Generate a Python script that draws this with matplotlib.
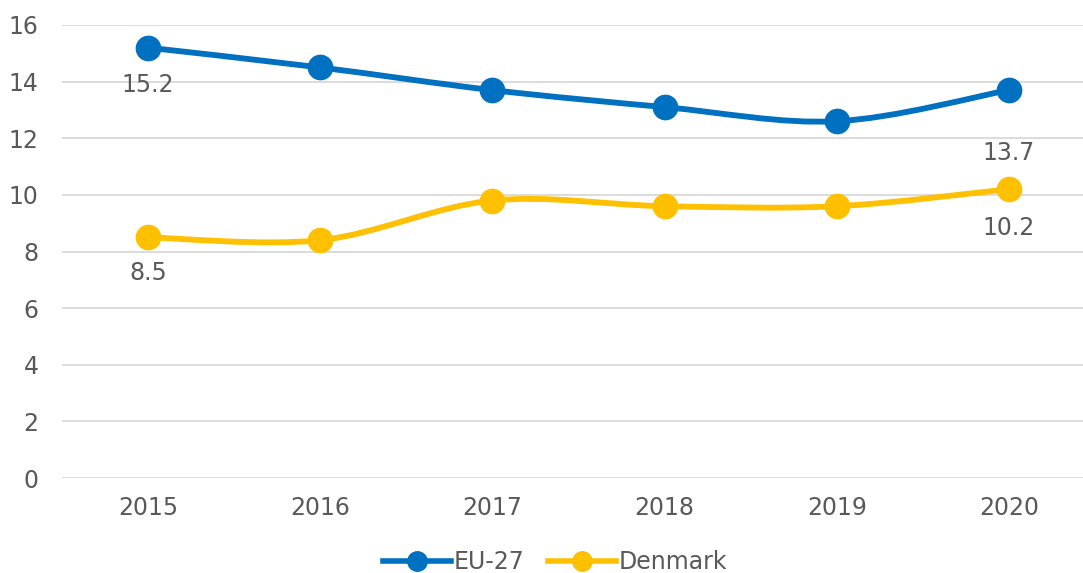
import matplotlib
matplotlib.use('Agg')
from matplotlib import pyplot as plt
from matplotlib.path import Path
from matplotlib.patches import PathPatch
import numpy as np

years = ['2015', '2016', '2017', '2018', '2019', '2020']
eu27 = [15.2, 14.5, 13.7, 13.1, 12.6, 13.7]
denmark = [8.5, 8.4, 9.8, 9.6, 9.6, 10.2]

blue = '#0070C0'
yellow = '#FFC000'
grey_text = '#595959'

plt.rcParams['font.family'] = ['DejaVu Sans']


# Excel-like smoothed line: cubic bezier through points (Catmull-Rom)
def SmoothPath(x, y):
    pts = np.column_stack([x, y]).astype(float)
    n = len(pts)
    verts = [pts[0]]
    codes = [Path.MOVETO]
    for i in range(n - 1):
        p0 = pts[max(i - 1, 0)]
        p1 = pts[i]
        p2 = pts[i + 1]
        p3 = pts[min(i + 2, n - 1)]
        c1 = p1 + (p2 - p0) / 6.0
        c2 = p2 - (p3 - p1) / 6.0
        verts += [c1, c2, p2]
        codes += [Path.CURVE4] * 3
    return Path(verts, codes)


fig = plt.figure(figsize=(10.83, 5.73), dpi=100)
ax = fig.add_axes([62 / 1083, 95 / 573, 1033 / 1083, 453 / 573])

x = np.arange(len(years))
# label offsets (points) for first and last point of each series
offsets = {'EU-27': (-27, -45), 'Denmark': (-26, -28)}
for vals, col, name in [(eu27, blue, 'EU-27'), (denmark, yellow, 'Denmark')]:
    ax.add_patch(PathPatch(SmoothPath(x, vals), facecolor='none', edgecolor=col,
                           lw=4.2, capstyle='round', zorder=3))
    ax.plot(x, vals, 'o', color=col, markersize=17.5, zorder=4)
    # legend handle
    ax.plot([], [], '-o', color=col, lw=4, markersize=14, label=name)
    for i, off in zip([0, len(vals) - 1], offsets[name]):
        ax.annotate(f'{vals[i]:.1f}', (x[i], vals[i]), xytext=(0, off),
                    textcoords='offset points', ha='center', va='center',
                    fontsize=17, color=grey_text)

ax.set_xlim(-0.5, len(years) - 0.5)
ax.set_ylim(0, 16)
ax.set_yticks(range(0, 17, 2))
ax.set_xticks(x)
ax.set_xticklabels(years)
ax.grid(axis='y', color='#D9D9D9', lw=1.3)
ax.set_axisbelow(True)
for s in ax.spines.values():
    s.set_visible(False)
ax.tick_params(length=0, labelsize=17, labelcolor=grey_text)
ax.tick_params(axis='x', pad=13)
ax.tick_params(axis='y', pad=17)

ax.legend(loc='center', bbox_to_anchor=(555 / 1033 - 62 / 1033, -0.185), ncol=2,
          frameon=False, fontsize=17, labelcolor=grey_text,
          handlelength=2.9, handletextpad=0.1, columnspacing=1.0)

fig.savefig('out.png', dpi=100)
plt.close()
